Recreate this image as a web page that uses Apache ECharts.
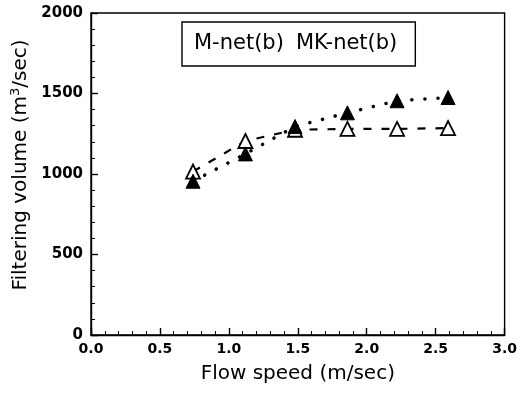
<!DOCTYPE html>
<html>
<head>
    <meta charset="UTF-8">
    <title>Filtering volume</title>
    <script src="https://cdn.jsdelivr.net/npm/echarts@6/dist/echarts.min.js"></script>
    <style>
        html, body { margin: 0; padding: 0; background: #fff; }
        #chart { width: 520px; height: 393px; }
    </style>
</head>
<body>
<div id="chart"></div>
<script>
    // flow speed (m/sec)
    var speeds = [0.74, 1.12, 1.48, 1.86, 2.22, 2.59];
    // filtering volume (m3/sec)
    var mNet = [1015, 1205, 1275, 1280, 1280, 1285];
    var mkNet = [955, 1125, 1295, 1380, 1455, 1475];
    var xTicks = [0, 0.5, 1, 1.5, 2, 2.5, 3];
    var yTicks = [0, 500, 1000, 1500, 2000];

    function pairs(xs, ys) {
        var out = [];
        for (var i = 0; i < xs.length; i++) {
            out.push([xs[i], ys[i]]);
        }
        return out;
    }

    var font = 'DejaVu Sans';
    var chart = echarts.init(document.getElementById('chart'));
    var option = {
        animation: false,
        textStyle: { fontFamily: font, color: '#000' },
        grid: {
            left: 91, right: 15, top: 13, bottom: 58,
            show: true, borderColor: '#000', borderWidth: 1.4
        },
        legend: {
            left: 182, top: 22,
            padding: [11, 18, 12, 6],
            borderColor: '#000', borderWidth: 1.4,
            itemWidth: 0, itemHeight: 0, itemGap: 6,
            icon: 'rect',
            selectedMode: false,
            textStyle: { fontFamily: font, fontSize: 21, color: '#000' },
            data: ['M-net(b)', 'MK-net(b)']
        },
        xAxis: {
            type: 'value',
            min: xTicks[0], max: xTicks[xTicks.length - 1], interval: 0.5,
            name: 'Flow speed (m/sec)',
            nameLocation: 'middle', nameGap: 29,
            nameTextStyle: { fontFamily: font, fontSize: 20, color: '#000' },
            axisLine: { lineStyle: { color: '#000', width: 1.4 } },
            axisTick: { inside: true, length: 7, lineStyle: { color: '#000', width: 1.4 } },
            minorTick: { show: true, splitNumber: 5, length: 4, lineStyle: { color: '#000' } },
            splitLine: { show: false },
            axisLabel: {
                fontFamily: font, fontSize: 14, fontWeight: 'bold', color: '#000', margin: 7,
                formatter: function (v) { return v.toFixed(1); }
            }
        },
        yAxis: {
            type: 'value',
            min: yTicks[0], max: yTicks[yTicks.length - 1], interval: 500,
            name: 'Filtering volume (m{sup|3}/sec)',
            nameLocation: 'middle', nameGap: 58, nameRotate: 90,
            nameTextStyle: {
                fontFamily: font, fontSize: 20, color: '#000',
                padding: [0, 0, 0, 18],
                rich: { sup: { fontFamily: font, fontSize: 13, color: '#000', verticalAlign: 'top', padding: [0, 0, 9, 0] } }
            },
            axisLine: { show: true, lineStyle: { color: '#000', width: 1.4 } },
            axisTick: { show: true, inside: true, length: 7, lineStyle: { color: '#000', width: 1.4 } },
            minorTick: { show: true, splitNumber: 5, length: 4, lineStyle: { color: '#000' } },
            splitLine: { show: false },
            axisLabel: {
                fontFamily: font, fontSize: 15, fontWeight: 'bold', color: '#000', margin: 8,
                formatter: function (v) { return String(v); }
            }
        },
        series: [
            {
                name: 'M-net(b)',
                type: 'line',
                data: pairs(speeds, mNet),
                symbol: 'triangle', symbolSize: 14,
                itemStyle: { color: '#fff', borderColor: '#000', borderWidth: 1.8 },
                lineStyle: { color: '#000', width: 2.2, type: [8, 10] },
                z: 2
            },
            {
                name: 'MK-net(b)',
                type: 'line',
                data: pairs(speeds, mkNet),
                symbol: 'triangle', symbolSize: 14,
                itemStyle: { color: '#000', borderColor: '#000', borderWidth: 1 },
                lineStyle: { color: '#000', width: 3.5, type: [0.1, 13], cap: 'round' },
                z: 3
            }
        ]
    };
    chart.setOption(option);
</script>
</body>
</html>
